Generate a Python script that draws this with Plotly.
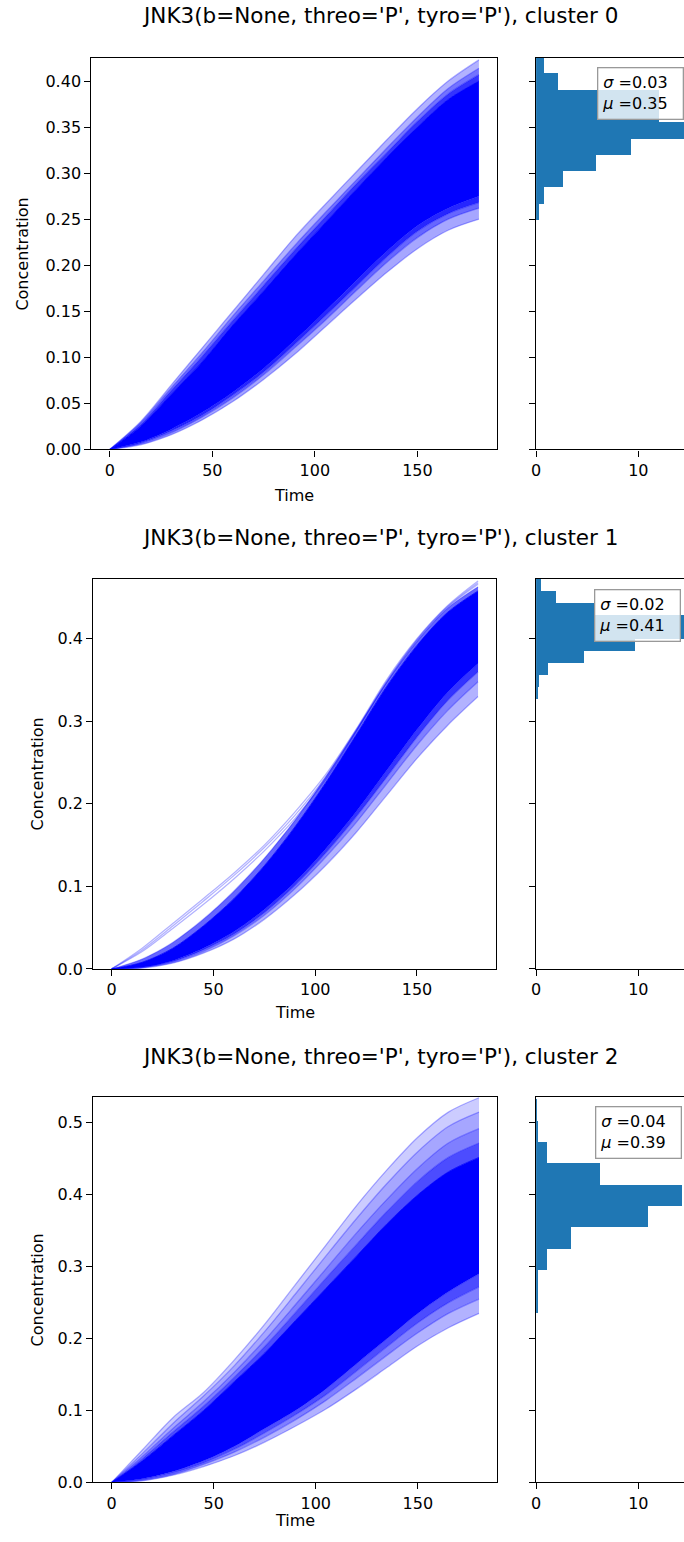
import plotly.graph_objects as go

W, H = 684, 1542
FONT = "DejaVu Sans"

# ---------------- data ----------------
T = [0, 15, 30, 45, 60, 75, 90, 105, 120, 135, 150, 165, 180]

titles = ["JNK3(b=None, threo='P', tyro='P'), cluster 0",
          "JNK3(b=None, threo='P', tyro='P'), cluster 1",
          "JNK3(b=None, threo='P', tyro='P'), cluster 2"]

# cluster 0 : dense core band + fringe trajectories (outermost first)
c0_dense_lo = [0, 0.008, 0.022, 0.040, 0.062, 0.088, 0.118, 0.150, 0.183, 0.215, 0.243, 0.262, 0.275]
c0_dense_hi = [0, 0.025, 0.060, 0.095, 0.135, 0.172, 0.210, 0.246, 0.282, 0.317, 0.350, 0.380, 0.400]
c0_upper = [
    [0, 0.030, 0.070, 0.110, 0.150, 0.190, 0.230, 0.266, 0.301, 0.336, 0.370, 0.400, 0.423],
    [0, 0.029, 0.067, 0.105, 0.145, 0.183, 0.221, 0.257, 0.292, 0.327, 0.361, 0.392, 0.414],
    [0, 0.027, 0.064, 0.101, 0.140, 0.178, 0.216, 0.252, 0.288, 0.322, 0.356, 0.386, 0.407],
]
c0_lower = [
    [0, 0.005, 0.016, 0.032, 0.052, 0.076, 0.103, 0.133, 0.163, 0.192, 0.218, 0.238, 0.250],
    [0, 0.006, 0.018, 0.035, 0.056, 0.081, 0.110, 0.140, 0.172, 0.203, 0.230, 0.250, 0.262],
    [0, 0.007, 0.020, 0.037, 0.059, 0.084, 0.114, 0.145, 0.177, 0.209, 0.237, 0.256, 0.268],
]
c0_upper_alpha = [0.3, 0.55, 0.8]
c0_lower_alpha = [0.35, 0.6, 0.85]
c0_bin_lo, c0_bin_w = 0.249, 0.0177
c0_density = [0.25, 0.74, 2.68, 5.9, 9.25, 16.0, 12.0, 12.0, 2.13, 0.8]
c0_sigma, c0_mu = "0.03", "0.35"

# cluster 1
c1_dense_lo = [0, 0.002, 0.010, 0.025, 0.045, 0.072, 0.105, 0.145, 0.190, 0.240, 0.290, 0.335, 0.370]
c1_dense_hi = [0, 0.008, 0.025, 0.052, 0.085, 0.125, 0.172, 0.225, 0.283, 0.342, 0.392, 0.432, 0.458]
c1_upper = [
    [0, 0.025, 0.055, 0.085, 0.116, 0.150, 0.190, 0.235, 0.290, 0.350, 0.400, 0.440, 0.470],
    [0, 0.023, 0.052, 0.082, 0.113, 0.147, 0.186, 0.232, 0.288, 0.348, 0.399, 0.439, 0.468],
    [0, 0.021, 0.049, 0.078, 0.109, 0.143, 0.182, 0.229, 0.287, 0.347, 0.398, 0.438, 0.466],
    [0, 0.012, 0.032, 0.060, 0.094, 0.134, 0.180, 0.232, 0.289, 0.347, 0.397, 0.437, 0.463],
]
c1_lower = [
    [0, 0.001, 0.007, 0.019, 0.036, 0.060, 0.090, 0.125, 0.165, 0.210, 0.255, 0.295, 0.330],
    [0, 0.0015, 0.008, 0.021, 0.040, 0.065, 0.097, 0.135, 0.177, 0.224, 0.271, 0.313, 0.348],
    [0, 0.002, 0.009, 0.023, 0.042, 0.068, 0.101, 0.140, 0.184, 0.232, 0.281, 0.325, 0.360],
]
c1_upper_alpha = [0.0, 0.0, 0.0, 0.6]
c1_lower_alpha = [0.3, 0.5, 0.8]
c1_bin_lo, c1_bin_w = 0.327, 0.0146
c1_density = [0.2, 0.3, 1.15, 4.7, 9.7, 21.0, 18.0, 5.8, 2.0, 0.5]
c1_sigma, c1_mu = "0.02", "0.41"

# cluster 2
c2_dense_lo = [0, 0.005, 0.015, 0.030, 0.050, 0.075, 0.100, 0.130, 0.165, 0.200, 0.235, 0.265, 0.290]
c2_dense_hi = [0, 0.030, 0.065, 0.100, 0.140, 0.180, 0.225, 0.270, 0.315, 0.360, 0.400, 0.432, 0.452]
c2_upper = [
    [0, 0.045, 0.090, 0.125, 0.170, 0.220, 0.275, 0.330, 0.385, 0.435, 0.480, 0.515, 0.535],
    [0, 0.040, 0.082, 0.120, 0.162, 0.210, 0.262, 0.315, 0.367, 0.416, 0.460, 0.495, 0.515],
    [0, 0.036, 0.075, 0.112, 0.153, 0.198, 0.247, 0.297, 0.347, 0.394, 0.437, 0.472, 0.492],
    [0, 0.033, 0.070, 0.106, 0.146, 0.189, 0.236, 0.284, 0.331, 0.377, 0.419, 0.452, 0.472],
]
c2_lower = [
    [0, 0.002, 0.010, 0.022, 0.037, 0.056, 0.078, 0.102, 0.130, 0.160, 0.190, 0.215, 0.235],
    [0, 0.003, 0.011, 0.025, 0.042, 0.063, 0.087, 0.114, 0.145, 0.177, 0.208, 0.235, 0.255],
    [0, 0.004, 0.013, 0.027, 0.046, 0.069, 0.094, 0.122, 0.155, 0.189, 0.222, 0.250, 0.272],
]
c2_upper_alpha = [0.2, 0.35, 0.5, 0.7]
c2_lower_alpha = [0.3, 0.5, 0.7]
c2_bin_lo, c2_bin_w = 0.236, 0.0297
c2_density = [0.1, 0.2, 1.07, 3.45, 10.95, 14.3, 6.3, 1.07, 0.2, 0.05]
c2_sigma, c2_mu = "0.04", "0.39"

y_ranges = [[0, 0.425], [0, 0.473], [0, 0.536]]
y_ticks = [[0.0, 0.05, 0.10, 0.15, 0.20, 0.25, 0.30, 0.35, 0.40],
           [0.0, 0.1, 0.2, 0.3, 0.4],
           [0.0, 0.1, 0.2, 0.3, 0.4, 0.5]]
y_ticktext = [["0.00", "0.05", "0.10", "0.15", "0.20", "0.25", "0.30", "0.35", "0.40"],
              ["0.0", "0.1", "0.2", "0.3", "0.4"],
              ["0.0", "0.1", "0.2", "0.3", "0.4", "0.5"]]
x_ticks = [0, 50, 100, 150]
hist_ticks = [0, 10]

clusters = [
    (c0_dense_lo, c0_dense_hi, c0_upper, c0_lower, c0_upper_alpha, c0_lower_alpha,
     c0_bin_lo, c0_bin_w, c0_density, c0_sigma, c0_mu),
    (c1_dense_lo, c1_dense_hi, c1_upper, c1_lower, c1_upper_alpha, c1_lower_alpha,
     c1_bin_lo, c1_bin_w, c1_density, c1_sigma, c1_mu),
    (c2_dense_lo, c2_dense_hi, c2_upper, c2_lower, c2_upper_alpha, c2_lower_alpha,
     c2_bin_lo, c2_bin_w, c2_density, c2_sigma, c2_mu),
]

# ---------------- layout geometry (pixels in the target picture) ----------------
line_x = [(87, 496), (89, 495), (89, 496)]
hist_x = (535, 684)
rows_y = [(58, 449), (578, 968), (1096, 1481)]
title_y = [15, 537, 1056]
time_y = [495, 1012, None]
conc_x = [18, 33, 33]
legend_box = [(596, 67), (593, 588), (594, 1105)]

SY = 0.9926  # vertical compensation for page capture


def px(x):
    return x / W


def py(y):
    return max(0.0, 1 - y / (SY * H))


fig = go.Figure()
layout = dict(width=W, height=H, margin=dict(l=0, r=0, t=0, b=0),
              paper_bgcolor="white", plot_bgcolor="white", showlegend=False,
              font=dict(family=FONT, size=16, color="black"), bargap=0)
annotations = []

LINE = "rgba(0,0,255,0.3)"
HIST = "#1f77b4"


def blue(a):
    return "rgba(0,0,255,%.2f)" % a


axis_common = dict(showline=True, linecolor="black", linewidth=1.2, ticks="outside",
                   ticklen=6, tickwidth=1.2, tickcolor="black", showgrid=False,
                   zeroline=False, tickfont=dict(family=FONT, size=16, color="black"))

spl = dict(shape="spline", smoothing=0.9)

for i, (dlo, dhi, upper, lower, ua, la_, blo, bw, dens, sig, mu) in enumerate(clusters):
    la = 2 * i + 1
    ha = 2 * i + 2
    lx = "x" if la == 1 else f"x{la}"
    ly = "y" if la == 1 else f"y{la}"
    hx, hy = f"x{ha}", f"y{ha}"

    def add(yv, fill_alpha, line_color=LINE, width=1.3):
        kw = dict(fill="tonexty", fillcolor=blue(fill_alpha)) if fill_alpha > 0 else dict(fill="none")
        fig.add_trace(go.Scatter(x=T, y=yv, mode="lines", line=dict(color=line_color, width=width, **spl),
                                 xaxis=lx, yaxis=ly, hoverinfo="skip", **kw))

    # lower fringe, outermost -> innermost
    for k, c in enumerate(lower):
        add(c, la_[k - 1] if k > 0 else 0)
    add(dlo, la_[-1], line_color=blue(la_[-1]), width=0.5)
    add(dhi, 1.0, line_color=blue(1.0), width=0.8)
    # upper fringe, innermost -> outermost
    n = len(upper)
    for k in range(n - 1, -1, -1):
        add(upper[k], ua[k])

    centers = [blo + bw * (k + 0.5) for k in range(len(dens))]
    fig.add_trace(go.Bar(x=dens, y=centers, orientation="h", width=bw,
                         marker=dict(color=HIST, line=dict(width=0)),
                         xaxis=hx, yaxis=hy, hoverinfo="skip"))

    y0, y1 = rows_y[i]
    x0, x1 = line_x[i]
    layout["xaxis" if la == 1 else f"xaxis{la}"] = dict(
        axis_common, domain=[px(x0), px(x1)], range=[-9, 189], tickvals=x_ticks,
        mirror=True, anchor=ly)
    layout["yaxis" if la == 1 else f"yaxis{la}"] = dict(
        axis_common, domain=[py(y1), py(y0)], range=y_ranges[i], tickvals=y_ticks[i],
        ticktext=y_ticktext[i], mirror=True, anchor=lx)
    layout[f"xaxis{ha}"] = dict(
        axis_common, domain=[px(hist_x[0]), 1.0], range=[0, (hist_x[1] - hist_x[0]) / 10.3],
        tickvals=hist_ticks, mirror=True, anchor=hy)
    layout[f"yaxis{ha}"] = dict(
        axis_common, domain=[py(y1), py(y0)], range=y_ranges[i], tickvals=y_ticks[i],
        showticklabels=False, mirror=False, anchor=hx)

    annotations.append(dict(text=titles[i], x=px(378), y=py(title_y[i]), xref="paper", yref="paper",
                            xanchor="center", yanchor="middle", showarrow=False,
                            font=dict(family=FONT, size=21.5, color="black")))
    if time_y[i] is None:
        annotations.append(dict(text="Time", x=px((x0 + x1) / 2), y=0, xref="paper", yref="paper",
                                xanchor="center", yanchor="bottom", showarrow=False,
                                font=dict(family=FONT, size=16, color="black")))
    else:
        annotations.append(dict(text="Time", x=px((x0 + x1) / 2), y=py(time_y[i]), xref="paper",
                                yref="paper", xanchor="center", yanchor="middle", showarrow=False,
                                font=dict(family=FONT, size=16, color="black")))
    annotations.append(dict(text="Concentration", x=px(conc_x[i]), y=py((y0 + y1) / 2), xref="paper",
                            yref="paper", xanchor="center", yanchor="middle", textangle=-90,
                            showarrow=False, font=dict(family=FONT, size=16, color="black")))
    bx, by = legend_box[i]
    annotations.append(dict(text="<i>σ</i> =%s<br><i>μ</i> =%s" % (sig, mu), x=px(bx), y=py(by),
                            xref="paper", yref="paper", xanchor="left", yanchor="top", align="left",
                            showarrow=False, bgcolor="rgba(255,255,255,0.8)", bordercolor="#999999",
                            borderwidth=1.3, borderpad=4, width=76, height=42,
                            font=dict(family=FONT, size=16, color="black")))

layout["annotations"] = annotations
fig.update_layout(**layout)
fig.write_html("out.html")
